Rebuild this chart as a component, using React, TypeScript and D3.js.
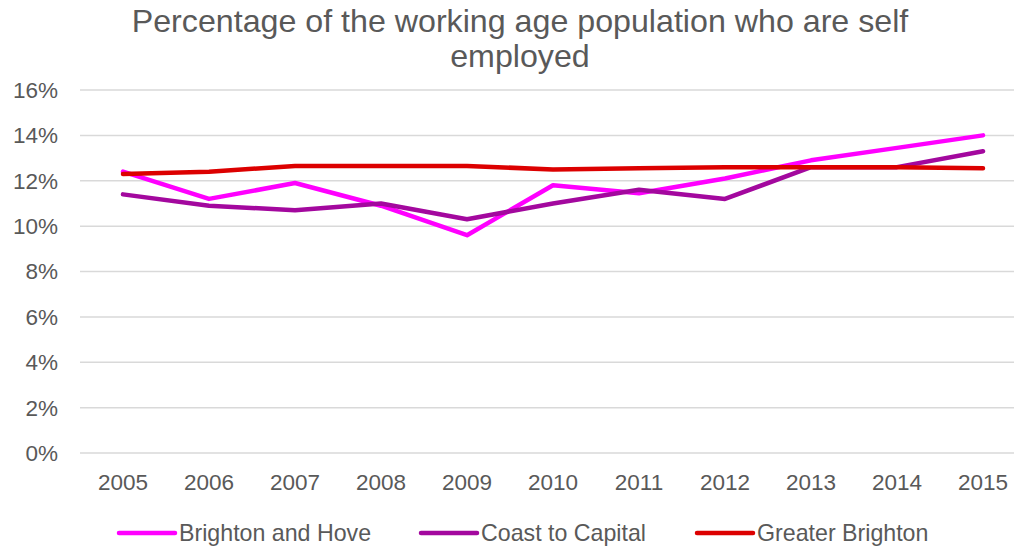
import React from "react";
import * as d3 from "d3";

const years = ["2005","2006","2007","2008","2009","2010","2011","2012","2013","2014","2015"];
const brightonHove = [12.4, 11.2, 11.9, 10.9, 9.6, 11.8, 11.45, 12.1, 12.9, 13.45, 14.0];
const coastCapital = [11.4, 10.9, 10.7, 11.0, 10.3, 11.0, 11.6, 11.2, 12.6, 12.6, 13.3];
const greaterBrighton = [12.3, 12.4, 12.65, 12.65, 12.65, 12.5, 12.55, 12.6, 12.6, 12.6, 12.55];
const yTicks = [0, 2, 4, 6, 8, 10, 12, 14, 16];
const seriesNames = ["Brighton and Hove", "Coast to Capital", "Greater Brighton"];
const seriesColors = ["#FF00FF", "#A3089E", "#DC0000"];

const W = 1014, H = 549;
const FONT = "'Liberation Sans', Arial, sans-serif";
const TXT = "#595959";

export default function App() {
  const x = d3.scalePoint<string>().domain(years).range([123, 983]);
  const y = d3.scaleLinear().domain([0, 16]).range([453, 90]);
  const line = d3.line<number>().x((_, i) => x(years[i])!).y(d => y(d));
  const data = [brightonHove, coastCapital, greaterBrighton];
  const legendX = [119, 421, 697];
  return (
    <svg width={W} height={H} style={{ position: "absolute", left: 0, top: 0, background: "#fff" }}>
      <text x={520} y={32} textAnchor="middle" fontFamily={FONT} fontSize={32.2} fill={TXT}>
        Percentage of the working age population who are self
      </text>
      <text x={520} y={67} textAnchor="middle" fontFamily={FONT} fontSize={32.2} fill={TXT}>
        employed
      </text>
      {yTicks.map(t => (
        <g key={t}>
          <line x1={80} x2={1014} y1={y(t)} y2={y(t)} stroke="#D9D9D9" strokeWidth={1.5} />
          <text x={58} y={y(t)} dy="0.35em" textAnchor="end" fontFamily={FONT} fontSize={22.5} fill={TXT}>{t}%</text>
        </g>
      ))}
      {years.map(yr => (
        <text key={yr} x={x(yr)} y={490} textAnchor="middle" fontFamily={FONT} fontSize={22.5} fill={TXT}>{yr}</text>
      ))}
      {data.map((d, i) => (
        <path key={i} d={line(d)!} fill="none" stroke={seriesColors[i]} strokeWidth={4.5} strokeLinecap="round" strokeLinejoin="round" />
      ))}
      {seriesNames.map((n, i) => (
        <g key={n}>
          <line x1={legendX[i]} x2={legendX[i] + 56} y1={533} y2={533} stroke={seriesColors[i]} strokeWidth={4.5} strokeLinecap="round" />
          <text x={legendX[i] + 60} y={533} dy="0.35em" fontFamily={FONT} fontSize={23.2} fill={TXT}>{n}</text>
        </g>
      ))}
    </svg>
  );
}
